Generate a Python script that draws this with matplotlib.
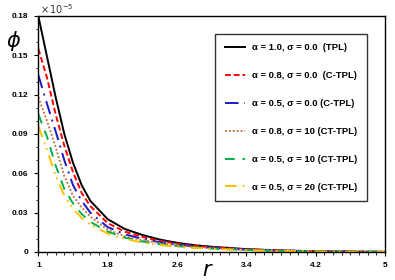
import matplotlib
matplotlib.use("Agg")
import matplotlib.pyplot as plt
from matplotlib.ticker import MultipleLocator, FuncFormatter

# valeurs (phi en unites de 1e-5)
r = [1.0, 1.1, 1.2, 1.3, 1.4, 1.5, 1.6, 1.8, 2.0, 2.2, 2.4, 2.6, 2.8, 3.0, 3.4, 3.8, 4.2, 4.6, 5.0]
phi_tpl = [0.180, 0.149, 0.118, 0.090, 0.068, 0.051, 0.039, 0.025, 0.0175, 0.013, 0.0095, 0.0070,
           0.0052, 0.0040, 0.0022, 0.0012, 0.0006, 0.0003, 0.0001]
phi_ctpl_08 = [0.155, 0.133, 0.105, 0.081, 0.061, 0.045, 0.035, 0.022, 0.0155, 0.0115, 0.0085, 0.0063,
               0.0047, 0.0036, 0.0020, 0.0011, 0.0006, 0.0003, 0.0001]
phi_ctpl_05 = [0.135, 0.113, 0.092, 0.070, 0.051, 0.039, 0.030, 0.019, 0.0135, 0.0100, 0.0075, 0.0056,
               0.0042, 0.0032, 0.0018, 0.0010, 0.0005, 0.00025, 0.0001]
phi_cttpl_08_10 = [0.118, 0.100, 0.080, 0.058, 0.043, 0.034, 0.027, 0.017, 0.0120, 0.0090, 0.0068, 0.0050,
                   0.0038, 0.0029, 0.0016, 0.0009, 0.0005, 0.00025, 0.0001]
phi_cttpl_05_10 = [0.105, 0.088, 0.066, 0.048, 0.037, 0.029, 0.023, 0.0155, 0.0110, 0.0080, 0.0060, 0.0045,
                   0.0034, 0.0026, 0.0015, 0.0008, 0.0004, 0.0002, 0.0001]
phi_cttpl_05_20 = [0.096, 0.078, 0.058, 0.043, 0.033, 0.026, 0.021, 0.0140, 0.0100, 0.0072, 0.0054, 0.0040,
                   0.0031, 0.0024, 0.0014, 0.0008, 0.0004, 0.0002, 0.0001]

labels = ["α = 1.0, σ = 0.0  (TPL)", "α = 0.8, σ = 0.0  (C-TPL)", "α = 0.5, σ = 0.0 (C-TPL)",
          "α = 0.8, σ = 10 (CT-TPL)", "α = 0.5, σ = 10 (CT-TPL)", "α = 0.5, σ = 20 (CT-TPL)"]
xticks = [1, 1.8, 2.6, 3.4, 4.2, 5]
yticks = [0, 0.03, 0.06, 0.09, 0.12, 0.15, 0.18]

series = [phi_tpl, phi_ctpl_08, phi_ctpl_05, phi_cttpl_08_10, phi_cttpl_05_10, phi_cttpl_05_20]
couleurs = ["black", "#ff0000", "#1a1acc", "#c47a45", "#00b050", "#ffc000"]
styles = ["-", (0, (3, 1.5)), (0, (7, 3, 1, 3)), (0, (1, 1)), (0, (5, 4)), (0, (6, 3, 1, 2, 1, 3))]

fig = plt.figure(figsize=(3.95, 2.8), dpi=100)
ax = fig.add_axes([0.097, 0.1, 0.878, 0.843])

for y, c, ls, lab in zip(series, couleurs, styles, labels):
    ax.plot(r, y, color=c, linestyle=ls, linewidth=1.4, label=lab)

ax.set_xlim(1, 5)
ax.set_ylim(0, 0.18)
ax.set_xticks(xticks)
ax.set_yticks(yticks)
ax.xaxis.set_minor_locator(MultipleLocator(0.1))
ax.yaxis.set_minor_locator(MultipleLocator(0.01))
fmt = FuncFormatter(lambda v, p: "%g" % round(v, 3))
ax.xaxis.set_major_formatter(fmt)
ax.yaxis.set_major_formatter(fmt)
ax.tick_params(which="major", direction="out", length=3, width=0.8, labelsize=6, pad=4)
ax.tick_params(which="minor", direction="out", length=1.8, width=0.6)
for t in ax.get_xticklabels() + ax.get_yticklabels():
    t.set_fontweight("bold")
    t.set_family("Liberation Sans")
for s in ax.spines.values():
    s.set_linewidth(1.0)

ax.text(0.005, 1.0, r"$\times\,10^{-5}$", transform=ax.transAxes, fontsize=7,
        family="DejaVu Serif", ha="left", va="bottom", color="#333333")
fig.text(0.035, 0.855, r"$\phi$", fontsize=15, ha="center", va="center")
fig.text(0.527, 0.035, r"$r$", fontsize=15, ha="center", va="center")

leg = ax.legend(loc="upper left", bbox_to_anchor=(0.51, 0.924), frameon=True, fancybox=False,
                edgecolor="black", handlelength=2.2, handletextpad=0.75, labelspacing=2.0,
                borderpad=1.0, borderaxespad=0.0,
                prop={"family": "Liberation Sans", "weight": "bold", "size": 6.8})
leg.get_frame().set_linewidth(1.0)

fig.savefig("out.png", dpi=100)
